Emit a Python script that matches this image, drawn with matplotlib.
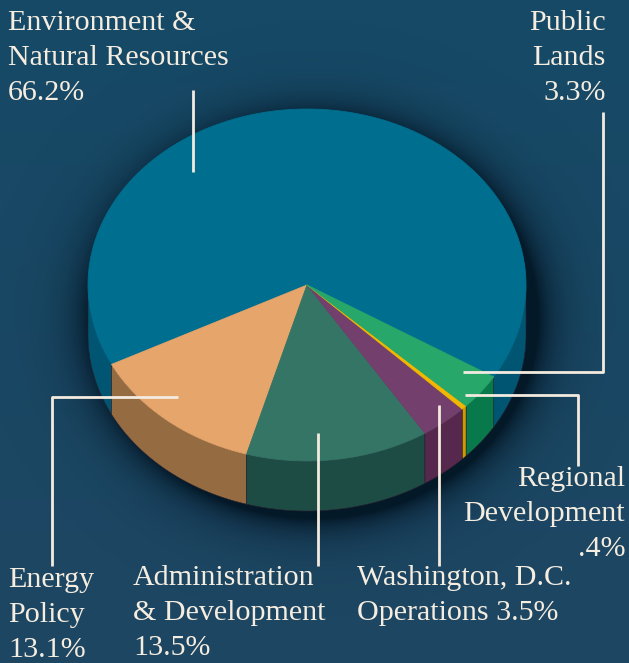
import matplotlib
matplotlib.use("Agg")
import matplotlib.pyplot as plt
from matplotlib.patches import Polygon
from matplotlib import font_manager
import numpy as np

serif = [f for f in ["Liberation Serif", "DejaVu Serif"]
         if any(e.name == f for e in font_manager.fontManager.ttflist)]
if not serif:
    serif = ["serif"]

# --- data ---
names = ["Environment &\nNatural Resources", "Energy\nPolicy",
         "Administration\n& Development", "Washington, D.C.\nOperations",
         "Regional\nDevelopment", "Public\nLands"]
shares = [66.2, 13.1, 13.5, 3.5, 0.4, 3.3]
pct_text = ["66.2%", "13.1%", "13.5%", "3.5%", ".4%", "3.3%"]

top_colors = ["#006e8e", "#e6a56b", "#357565", "#733f6c", "#f2b800", "#27a86a"]
side_colors = ["#005672", "#956c41", "#1d4c44", "#56284e", "#d19a00", "#07794a"]

W, H = 629, 663
cx, cy, rx, ry, depth = 307, 285, 219, 176, 50
start = -31.5

fig = plt.figure(figsize=(W / 100, H / 100), dpi=100)
ax = fig.add_axes([0, 0, 1, 1])
ax.set_xlim(0, W)
ax.set_ylim(H, 0)
ax.axis("off")

# background gradient
yy, xx = np.mgrid[0:H, 0:W]
t = yy / H
top = np.array([22, 74, 103]) / 255
bot = np.array([30, 70, 98]) / 255
bg = top[None, None, :] * (1 - t[..., None]) + bot[None, None, :] * t[..., None]
ax.imshow(bg, extent=(0, W, H, 0), zorder=0)

# soft shadow under the pie
d = np.sqrt(((xx - 314) / 224.0) ** 2 + ((yy - 318) / 200.0) ** 2)
alpha = np.clip(0.9 * np.exp(-np.clip(d - 1, 0, None) / 0.09), 0, 0.9)
shadow = np.zeros((H, W, 4))
shadow[..., :3] = np.array([2, 20, 34]) / 255
shadow[..., 3] = alpha
ax.imshow(shadow, extent=(0, W, H, 0), zorder=1)


def arc(a0, a1, dy=0, n=120):
    tt = np.radians(np.linspace(a0, a1, n))
    return np.column_stack([cx + rx * np.cos(tt), cy + dy - ry * np.sin(tt)])


angles = start + np.concatenate([[0], np.cumsum(shares)]) * 3.6

# side walls (front half: 180..360 deg)
for i in range(len(shares)):
    a0, a1 = angles[i], angles[i + 1]
    for k in (-360, 0, 360):
        lo, hi = max(a0, 180 + k), min(a1, 360 + k)
        if hi > lo:
            upper = arc(lo, hi)
            lower = arc(hi, lo, dy=depth)
            ax.add_patch(Polygon(np.vstack([upper, lower]), closed=True,
                                 facecolor=side_colors[i], edgecolor="#2a2030",
                                 linewidth=0.4, zorder=2))

# top wedges
for i in range(len(shares)):
    pts = np.vstack([[cx, cy], arc(angles[i], angles[i + 1])])
    ax.add_patch(Polygon(pts, closed=True, facecolor=top_colors[i],
                         edgecolor=top_colors[i], linewidth=0.6, zorder=3))

# leader lines
lc = "#f3ebe0"
lw = 2
leaders = [
    [(193, 90), (193, 172)],
    [(178, 397), (52, 397), (52, 566)],
    [(318, 433), (318, 566)],
    [(439, 405), (439, 566)],
    [(465, 395), (578, 395), (578, 466)],
    [(463, 372), (603, 372), (603, 112)],
]
for seg in leaders:
    xs, ys = zip(*seg)
    ax.plot(xs, ys, color=lc, lw=lw, solid_capstyle="butt", zorder=5)


# labels, one line at a time (y = baseline in px)
def label(x, y0, lines, ha):
    for j, s in enumerate(lines):
        ax.text(x, y0 + 34.8 * j, s, ha=ha, va="baseline", family=serif,
                fontsize=21.6, color="#f5ede0", zorder=6)


label(8, 30, names[0].split("\n") + [pct_text[0]], "left")
label(606, 30, names[5].split("\n") + [pct_text[5]], "right")
label(625, 486, names[4].split("\n") + [pct_text[4]], "right")
label(8, 587, names[1].split("\n") + [pct_text[1]], "left")
label(133, 585, names[2].split("\n") + [pct_text[2]], "left")
w1, w2 = names[3].split("\n")
label(357, 585, [w1, w2 + " " + pct_text[3]], "left")

fig.savefig("out.png", dpi=100)
